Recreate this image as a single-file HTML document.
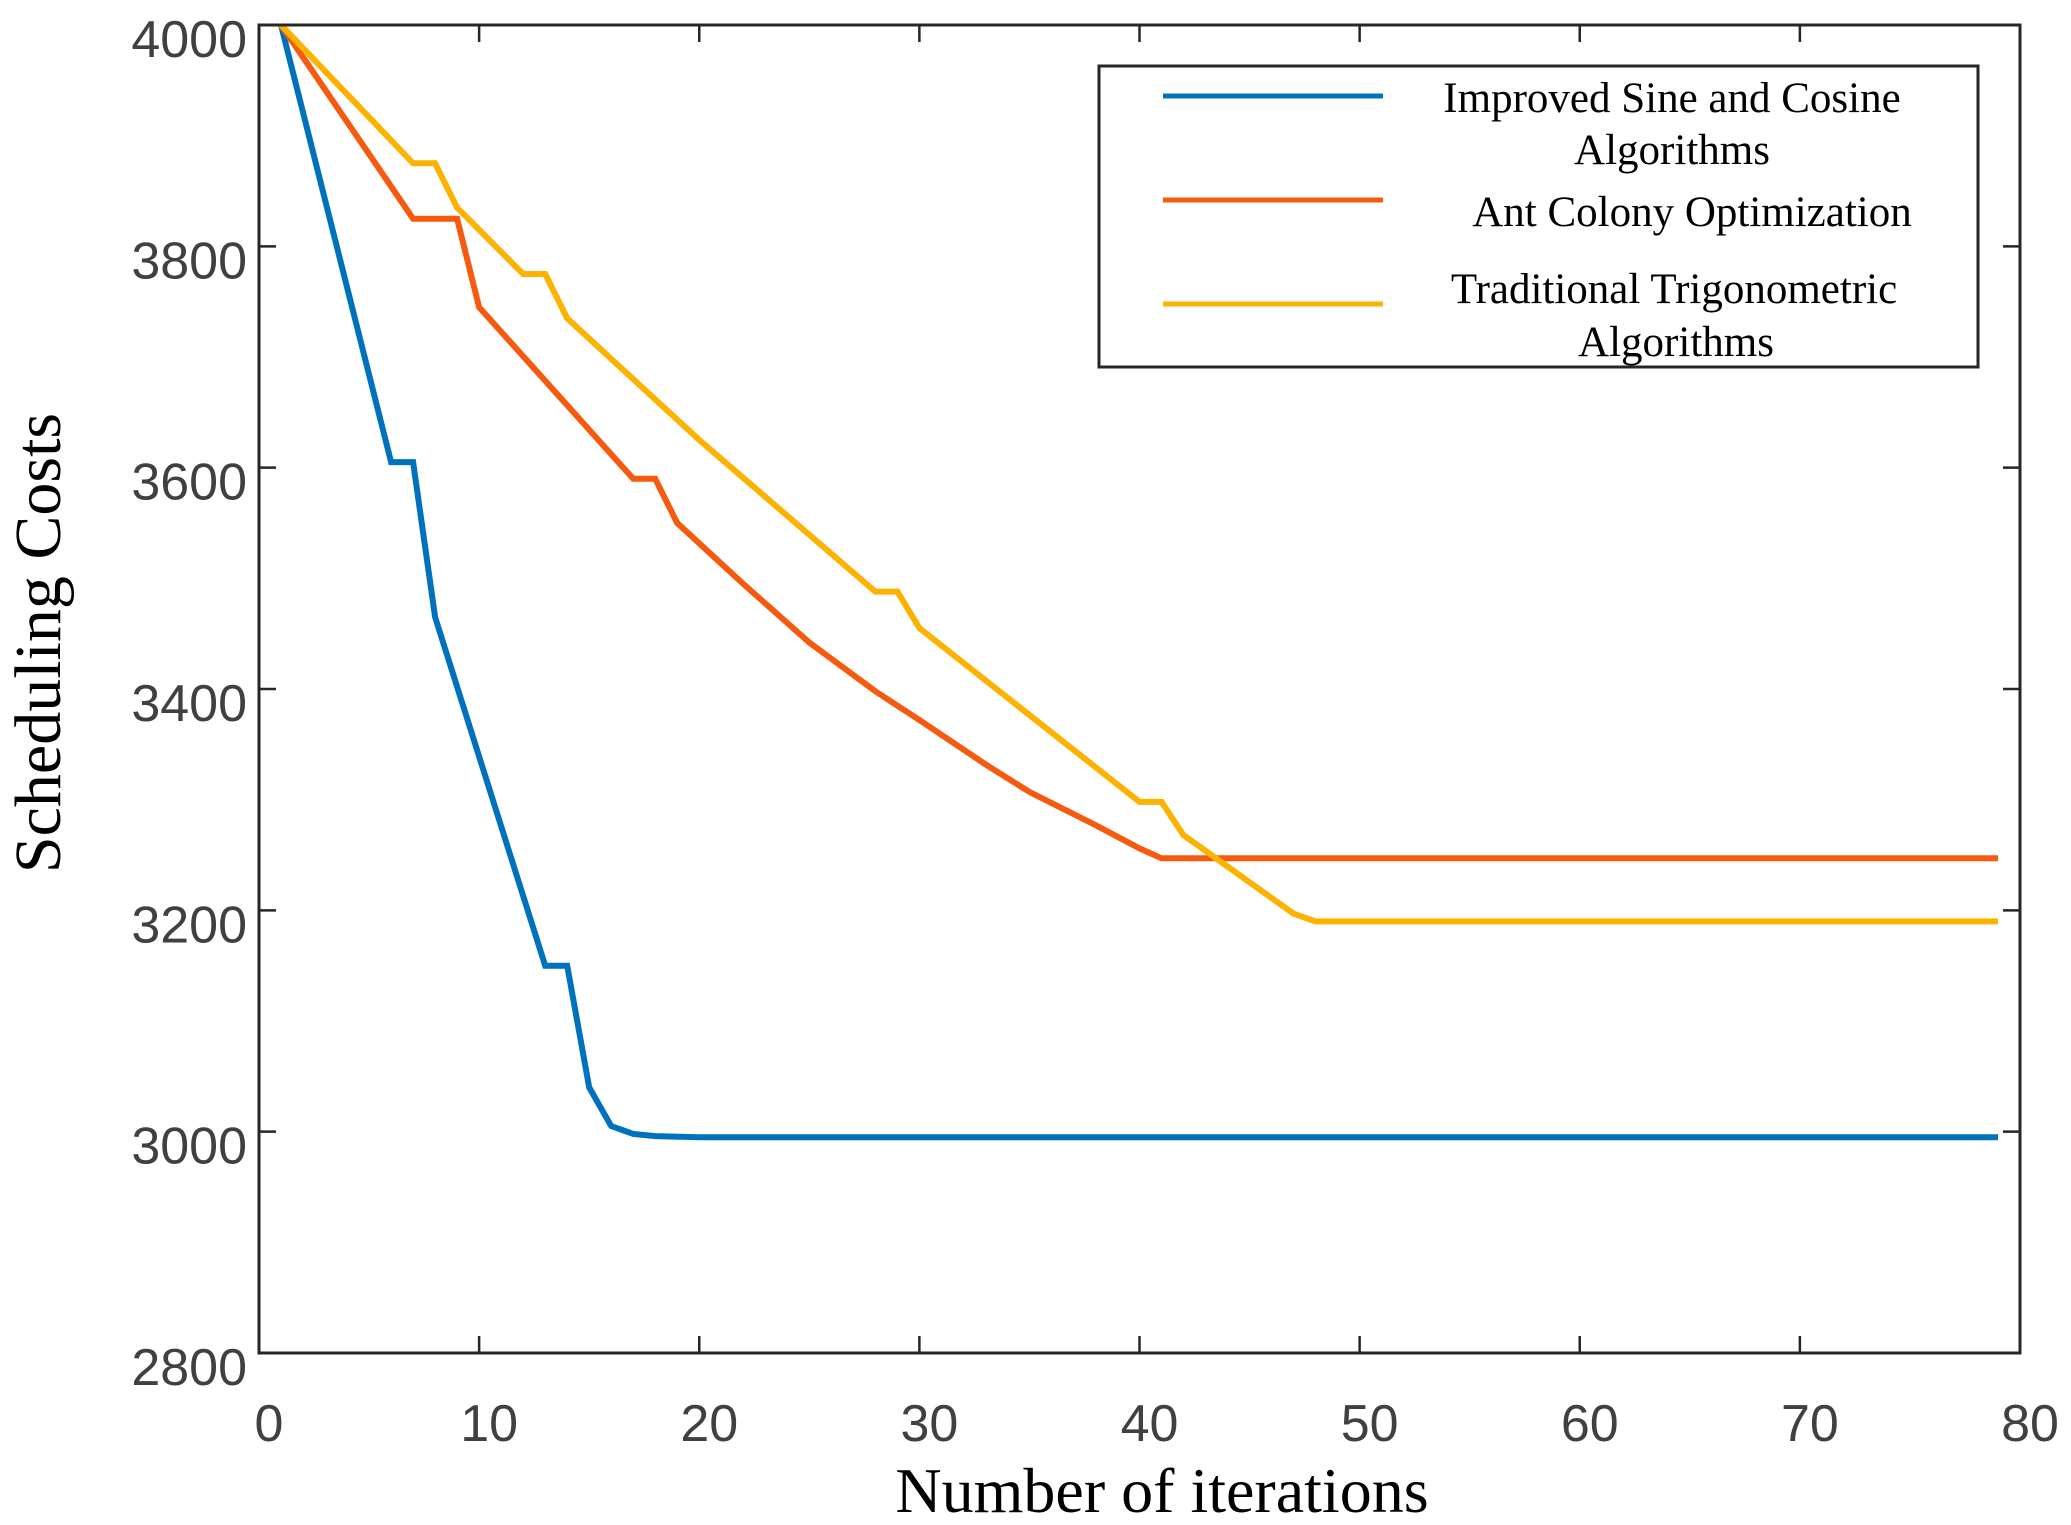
<!DOCTYPE html>
<html><head><meta charset="utf-8"><style>
html,body{margin:0;padding:0;background:#fff;}
svg{display:block;}
</style></head><body>
<svg id="chart" width="2071" height="1525" viewBox="0 0 2071 1525" xmlns="http://www.w3.org/2000/svg">
<g id="plot"></g>
</svg>
<script>
const xTicks=[0,10,20,30,40,50,60,70,80];
const yTicks=[2800,3000,3200,3400,3600,3800,4000];
const seriesNames=["Improved Sine and Cosine Algorithms","Ant Colony Optimization","Traditional Trigonometric Algorithms"];
const isaX=[1,6,7,8,13,14,15,16,17,18,20,79];
const isaY=[4000,3605,3605,3465,3150,3150,3040,3005,2998,2996,2995,2995];
const acoX=[1,7,9,10,17,18,19,22,25,28,30,33,35,38,40,41,79];
const acoY=[4000,3825,3825,3745,3590,3590,3550,3495,3442,3398,3372,3332,3307,3277,3256,3247,3247];
const ttaX=[1,7,8,9,12,13,14,20,28,29,30,40,41,42,47,48,79];
const ttaY=[4000,3875,3875,3835,3775,3775,3735,3625,3488,3488,3455,3298,3298,3268,3197,3190,3190];

const L=259,R=2020,T=25,B=1353;
const sx=v=>L+(v-0)/(80-0)*(R-L);
const sy=v=>B-(v-2800)/(4000-2800)*(B-T);
const NS="http://www.w3.org/2000/svg";
const g=document.getElementById('plot');
function mk(tag,attrs,parent){const e=document.createElementNS(NS,tag);for(const k in attrs)e.setAttribute(k,attrs[k]);(parent||g).appendChild(e);return e;}

const colors=["#0072BD","#F55A0E","#FDB200"];
const xs=[isaX,acoX,ttaX], ys=[isaY,acoY,ttaY];
const sNames=["series-improved-sca","series-ant-colony","series-traditional-trig"];
for(let s=0;s<3;s++){
  const d=xs[s].map((x,i)=>(i?'L':'M')+sx(x).toFixed(1)+','+sy(ys[s][i]).toFixed(1)).join(' ');
  const p=mk('path',{d:d,fill:'none',stroke:colors[s],'stroke-width':6,'stroke-linejoin':'miter'});
  
  
}

const box=mk('rect',{x:L,y:T,width:R-L,height:B-T,fill:'none',stroke:'#262626','stroke-width':3});



xTicks.forEach(t=>{
  const x=sx(t);
  mk('line',{x1:x,y1:B,x2:x,y2:B-17,stroke:'#262626','stroke-width':2.5});
  mk('line',{x1:x,y1:T,x2:x,y2:T+17,stroke:'#262626','stroke-width':2.5});
  const tx=mk('text',{x:x+10,y:B+88,'text-anchor':'middle','font-family':'Liberation Sans, sans-serif','font-size':52,fill:'#404040'});
  tx.textContent=t;
  
  
});
yTicks.forEach(t=>{
  const y=sy(t);
  mk('line',{x1:L,y1:y,x2:L+17,y2:y,stroke:'#262626','stroke-width':2.5});
  mk('line',{x1:R,y1:y,x2:R-17,y2:y,stroke:'#262626','stroke-width':2.5});
  const ty=mk('text',{x:L-12,y:y+32,'text-anchor':'end','font-family':'Liberation Sans, sans-serif','font-size':52,fill:'#404040'});
  ty.textContent=t;
  
  
});

const xt=mk('text',{x:1162,y:1512,'text-anchor':'middle','font-family':'Liberation Serif, serif','font-size':64,fill:'#000'});
xt.textContent='Number of iterations';


const yt=mk('text',{x:0,y:0,'text-anchor':'middle','font-family':'Liberation Serif, serif','font-size':66,fill:'#000',transform:'translate(60,643) rotate(-90)'});
yt.textContent='Scheduling Costs';



const lg=mk('g',{});


mk('rect',{x:1099,y:66,width:879,height:301,fill:'#fff',stroke:'#262626','stroke-width':3},lg);
const legLines=[[ "Improved Sine and Cosine","Algorithms"],["Ant Colony Optimization"],["Traditional Trigonometric","Algorithms"]];
const legY=[96,200,304];
const textY=[[112,164],[226],[303,356]];
const textX=[[1672,1672],[1692],[1674,1676]];
for(let s=0;s<3;s++){
  const ln=mk('line',{x1:1163,y1:legY[s],x2:1383,y2:legY[s],stroke:colors[s],'stroke-width':5},lg);
  
  
  legLines[s].forEach((t,i)=>{
    const te=mk('text',{x:textX[s][i],y:textY[s][i],'text-anchor':'middle','font-family':'Liberation Serif, serif','font-size':43,fill:'#000'},lg);
    te.textContent=t;
    
    
  });
}
</script>
</body></html>
